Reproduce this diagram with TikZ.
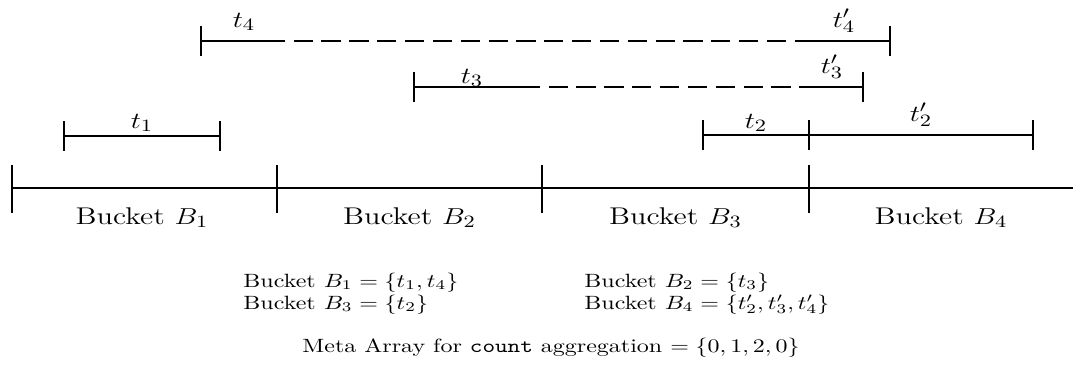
\documentclass[tikz,border=0pt]{standalone}
\usepackage{graphicx}
\newcommand{\vsq}[1]{\scalebox{1}[0.8]{#1}}
\begin{document}
\begin{tikzpicture}[x=0.4167pt,y=-0.4167pt,
  axisline/.style={line width=1.1pt},
  ivline/.style={line width=0.45pt},
  ivdash/.style={line width=0.45pt,dash pattern=on 8pt off 3.6pt,dash phase=8pt},
  blabel/.style={font=\fontsize{12.6}{15}\selectfont,anchor=base,inner sep=0pt},
  tlabel/.style={font=\fontsize{12.6}{15}\selectfont,anchor=base,inner sep=0pt},
  btext/.style={font=\normalsize,anchor=base west,inner sep=0pt}]
\useasboundingbox (0,0) rectangle (1073,379);
% main axis
\coordinate (a0) at (12,188);
\coordinate (a1) at (277,188);
\coordinate (a2) at (542,188);
\coordinate (a3) at (809,188);
\coordinate (aend) at (1073,188);
\draw[axisline] (a0) -- (aend);
\foreach \p in {a0,a1,a2,a3}
  \draw[axisline] ([yshift=23*0.4167pt]\p) -- ([yshift=-25*0.4167pt]\p);
% bucket labels
\node[blabel] (b1) at (142,224) {\vsq{Bucket $B_1$}};
\node[blabel] (b2) at (409.5,224) {\vsq{Bucket $B_2$}};
\node[blabel] (b3) at (675.5,224) {\vsq{Bucket $B_3$}};
\node[blabel] (b4) at (941,224) {\vsq{Bucket $B_4$}};
% interval t1
\coordinate (t1s) at (64,136);
\coordinate (t1e) at (220,136);
\draw[ivline] (t1s) -- (t1e);
% interval t2 / t2'
\coordinate (t2s) at (703,135);
\coordinate (t2m) at (809,135);
\coordinate (t2e) at (1033,135);
\draw[ivline] (t2s) -- (t2m) -- (t2e);
% interval t3
\coordinate (t3s) at (414,87);
\coordinate (t3a) at (540,87);
\coordinate (t3b) at (801,87);
\coordinate (t3e) at (863,87);
\draw[ivline] (t3s) -- (t3a);
\draw[ivdash] (t3a) -- (t3b);
\draw[ivline] (t3b) -- (t3e);
% interval t4
\coordinate (t4s) at (201,41);
\coordinate (t4a) at (285,41);
\coordinate (t4b) at (806,41);
\coordinate (t4e) at (890,41);
\draw[ivline] (t4s) -- (t4a);
\draw[ivdash] (t4a) -- (t4b);
\draw[ivline] (t4b) -- (t4e);
% end ticks
\foreach \p in {t1s,t1e,t2s,t2m,t2e,t3s,t3e,t4s,t4e}
  \draw[ivline] ([yshift=15*0.4167pt]\p) -- ([yshift=-15*0.4167pt]\p);
% interval labels
\node[tlabel] (l1) at (142,128) {\vsq{$t_1$}};
\node[tlabel] (l2) at (756,128) {\vsq{$t_2$}};
\node[tlabel] (l2p) at (921,121) {\vsq{$t'_2$}};
\node[tlabel] (l3) at (472,83) {\vsq{$t_3$}};
\node[tlabel] (l3p) at (832,73) {\vsq{$t'_3$}};
\node[tlabel] (l4) at (244,27) {\vsq{$t_4$}};
\node[tlabel] (l4p) at (844,27) {\vsq{$t'_4$}};
% bucket contents
\node[btext] (r1a) at (243,287) {\vsq{Bucket $B_1 = \{t_1, t_4\}$}};
\node[btext] (r1b) at (584,287) {\vsq{Bucket $B_2 = \{t_3\}$}};
\node[btext] (r2a) at (243,309) {\vsq{Bucket $B_3 = \{t_2\}$}};
\node[btext] (r2b) at (584,309) {\vsq{Bucket $B_4 = \{t'_2, t'_3, t'_4\}$}};
\node[font=\normalsize,anchor=base,inner sep=0pt] (meta) at (551,352) {\vsq{Meta Array for \texttt{count} aggregation $= \{0, 1, 2, 0\}$}};
\end{tikzpicture}
\end{document}
